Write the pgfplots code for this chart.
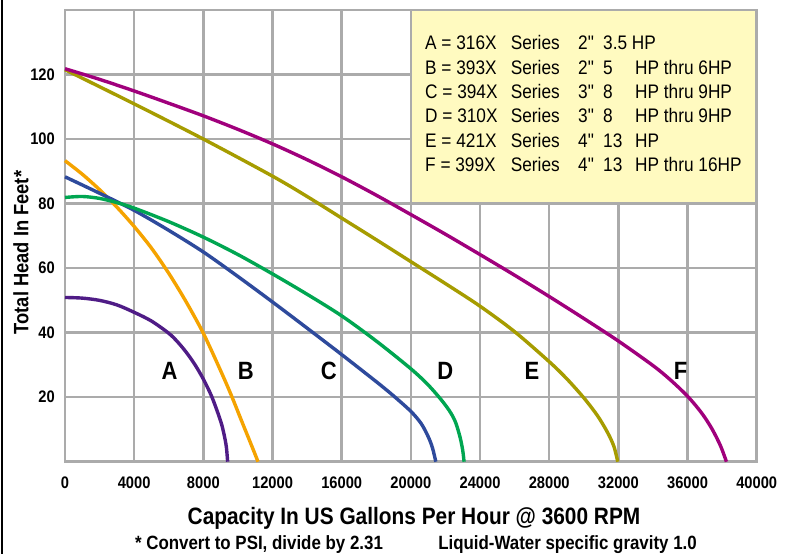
\documentclass[border=0pt]{standalone}
\usepackage{fontspec}
\setmainfont{Liberation Sans}[FakeStretch=0.88]
\usepackage{pgfplots}
\pgfplotsset{compat=1.18}

\definecolor{gridgray}{HTML}{ABABAB}
\definecolor{legyellow}{HTML}{FFFAC0}
\definecolor{cA}{HTML}{4F1C86}
\definecolor{cB}{HTML}{F5A300}
\definecolor{cC}{HTML}{2E4A9C}
\definecolor{cD}{HTML}{00A651}
\definecolor{cE}{HTML}{A69C00}
\definecolor{cF}{HTML}{A0007C}

% straight inch mark, bypassing the tex-text mapping
\newcommand{\inch}{\XeTeXglyph\XeTeXcharglyph"22\relax}
\newcommand{\legfont}{\fontsize{19.6}{23}\selectfont}
\newcommand{\legrow}[6]{%
  \node[anchor=base west, inner sep=0pt, font=\legfont] at (425,#1)
    {\makebox[85.7pt][l]{#2}\makebox[67.3pt][l]{#3}\makebox[25pt][l]{#4}\makebox[32pt][l]{#5}#6};}

\begin{document}
\begin{tikzpicture}[x=1pt,y=1pt]
\useasboundingbox (0,0) rectangle (791,554);
\fill[white] (0,0) rectangle (791,554);
\fill[black] (0.5,0) rectangle (3.3,554);

\begin{axis}[
  at={(65pt,92.3pt)}, anchor=south west, scale only axis,
  width=691.7pt, height=451.7pt,
  xmin=0, xmax=40000, ymin=0, ymax=140,
  xtick={0,4000,...,40000}, ytick={20,40,...,120},
  scaled x ticks=false,
  /pgf/number format/1000 sep={},
  /pgf/number format/assume math mode=true,
  grid=major, grid style={gridgray, line width=2.6pt},
  axis line style={gridgray, line width=2.6pt},
  major tick length=0pt,
  tick label style={font=\fontsize{16.7}{20}\selectfont\bfseries, inner sep=0pt},
  xticklabel style={anchor=center, yshift=-21.3pt},
  yticklabel style={anchor=east, xshift=-10pt},
  xlabel={Capacity In US Gallons Per Hour @ 3600 RPM},
  xlabel style={at={(axis description cs:0.5046,-0.1401)}, anchor=base,
    font=\fontsize{23.7}{28}\selectfont\bfseries},
  ylabel={Total Head In Feet*},
  ylabel style={at={(axis description cs:-0.0636,0.4631)}, anchor=center,
    font=\fontsize{20.8}{24}\selectfont\bfseries},
  clip=false,
]
% A = 316X
\addplot[cA, line width=3.4pt, smooth] coordinates {
  (0,50.9) (1000,50.7) (2000,50.0) (3000,48.6) (4000,46.3) (5000,43.6)
  (6000,39.8) (6500,37.2) (7000,34.0) (7500,30.2) (8000,25.6) (8500,20)
  (9000,12.6) (9200,8.4) (9330,4.6) (9405,0)
};
% B = 393X
\addplot[cB, line width=3.4pt, smooth] coordinates {
  (0,93.3) (1000,89.1) (2000,84.3) (3000,78.9) (4000,72.9) (5000,66.2)
  (6000,58.4) (7000,49.6) (8000,39.8) (9000,28.2) (9600,20.8) (10200,12.8)
  (10700,6.2) (11000,2.2) (11160,0)
};
% C = 394X
\addplot[cC, line width=3.4pt, smooth] coordinates {
  (0,88.3) (2000,83.2) (4000,77.9) (6000,71.7) (8000,65) (10000,57.4)
  (12000,49.5) (14000,41.4) (16000,33.2) (18000,24.8) (19000,20.4)
  (20000,15.6) (20600,11.8) (21000,7.8) (21250,4.3) (21443,0)
};
% D = 310X
\addplot[cD, line width=3.4pt, smooth] coordinates {
  (0,81.9) (1000,82.2) (2000,81.6) (3000,80.3) (4000,78.6) (6000,74.4)
  (8000,69.6) (10000,64.2) (12000,58.2) (14000,51.9) (16000,45.2)
  (18000,37.4) (20000,28.8) (21000,23.8) (21800,18.9) (22300,15.2)
  (22600,12) (22850,7.5) (23000,3.5) (23077,0)
};
% E = 421X
\addplot[cE, line width=3.4pt, smooth] coordinates {
  (0,121.5) (4000,110.9) (8000,100) (12000,88.5) (14000,82.2) (16000,75.5)
  (18000,68.8) (20000,62.0) (22000,55.2) (24000,48.2) (26000,40.3)
  (28000,31) (29000,25.8) (30000,19.8) (30800,14.2) (31400,8.8)
  (31750,4.6) (31965,0)
};
% F = 399X
\addplot[cF, line width=3.4pt, smooth] coordinates {
  (0,121.8) (2000,118.5) (4000,114.9) (6000,111.1) (8000,107.2) (10000,103)
  (12000,98.5) (14000,93.6) (16000,88.3) (18000,82.6) (20000,76.6)
  (22000,70.5) (24000,64.2) (26000,57.8) (28000,51.2) (30000,44.4)
  (32000,37.4) (34000,29.8) (35000,25.4) (36000,20.3) (36800,15.2)
  (37400,10.3) (37900,5) (38250,0)
};

\draw[gridgray, line width=2.6pt, fill=legyellow]
  (axis cs:20000,80) rectangle (axis cs:40000,140);

\begin{scope}[every node/.style={font=\fontsize{25}{30}\selectfont\bfseries}]
\node at (axis cs:6050,28.2) {A};
\node at (axis cs:10450,28.2) {B};
\node at (axis cs:15250,28.2) {C};
\node at (axis cs:22000,28.2) {D};
\node at (axis cs:27000,28.2) {E};
\node at (axis cs:35600,28.2) {F};
\end{scope}
\end{axis}

\legrow{504}{A = 316X}{Series}{2\inch}{3.5 HP}{}
\legrow{479.7}{B = 393X}{Series}{2\inch}{5}{HP thru 6HP}
\legrow{455.4}{C = 394X}{Series}{3\inch}{8}{HP thru 9HP}
\legrow{431.1}{D = 310X}{Series}{3\inch}{8}{HP thru 9HP}
\legrow{406.8}{E = 421X}{Series}{4\inch}{13}{HP}
\legrow{382.5}{F = 399X}{Series}{4\inch}{13}{HP thru 16HP}

\node[anchor=base, font=\fontsize{19.2}{22}\selectfont\bfseries] at (259,5)
  {* Convert to PSI, divide by 2.31};
\node[anchor=base, font=\fontsize{19.2}{22}\selectfont\bfseries] at (567.5,5)
  {Liquid-Water specific gravity 1.0};
\end{tikzpicture}
\end{document}
